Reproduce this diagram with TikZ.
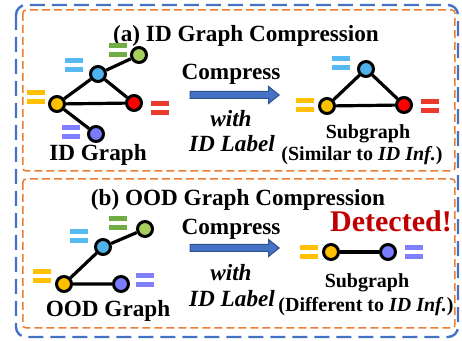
\documentclass[tikz,border=0pt]{standalone}
\usepackage{fontspec}
\setmainfont{Liberation Serif}
\usetikzlibrary{shapes,arrows,positioning,calc}

\definecolor{ngreen}{RGB}{166,206,90}
\definecolor{nblue}{RGB}{79,178,234}
\definecolor{nyellow}{RGB}{255,192,0}
\definecolor{nred}{RGB}{255,0,0}
\definecolor{npurple}{RGB}{123,123,255}
\definecolor{egreen}{RGB}{112,173,71}
\definecolor{eblue}{RGB}{86,185,240}
\definecolor{eyellow}{RGB}{255,192,0}
\definecolor{ered}{RGB}{236,58,44}
\definecolor{epurple}{RGB}{128,128,255}
\definecolor{frameblue}{RGB}{68,114,196}
\definecolor{frameorange}{RGB}{237,125,49}
\definecolor{arrowedge}{RGB}{47,82,143}
\definecolor{detred}{RGB}{192,0,0}

\tikzset{
  vtx/.style={circle, draw=black, line width=1.5pt, minimum size=7.5pt, inner sep=0pt, fill=#1},
  link/.style={line width=1.6pt},
  eqsign/.style={rectangle, minimum width=9pt, minimum height=7pt, inner sep=0pt,
    path picture={
      \fill[#1] (path picture bounding box.north west) rectangle ([yshift=-2.5pt]path picture bounding box.north east);
      \fill[#1] ([yshift=2.5pt]path picture bounding box.south west) rectangle (path picture bounding box.south east);
    }},
  bigarrow/.style={single arrow, fill=frameblue, draw=arrowedge, line width=0.5pt,
    minimum height=44.5pt, inner xsep=0pt, inner ysep=1.5pt,
    single arrow head extend=2.5pt, single arrow head indent=0pt, single arrow tip angle=78},
  ttl/.style={anchor=base, inner sep=0pt, font=\fontsize{11.6}{13}\selectfont\bfseries},
  ttlit/.style={ttl, font=\fontsize{11.6}{13}\selectfont\bfseries\itshape},
  small/.style={anchor=base, inner sep=0pt, font=\fontsize{10}{12}\selectfont\bfseries},
  outerbox/.style={draw=frameblue, line width=1.2pt, dash pattern=on 7.5pt off 3.5pt, rounded corners=5pt},
  innerbox/.style={draw=frameorange, line width=0.75pt, dash pattern=on 4pt off 2pt, rounded corners=1.5pt}
}

\begin{document}
\begin{tikzpicture}[x=0.5pt,y=-0.5pt]
  \useasboundingbox (0,0) rectangle (462,341);
  % frames
  \draw[outerbox] (16,5) rectangle (458,337);
  \draw[innerbox] (23,10) rectangle (455,171);
  \draw[innerbox] (23,179) rectangle (455,328);

  % (a) ID graph
  \node[ttl] (ttlA) at (246,42) {(a) ID Graph Compression};
  \node[eqsign=egreen] (eqAg) at (118,50) {};
  \node[eqsign=eblue] (eqAb) at (74,65) {};
  \node[eqsign=eyellow] (eqAy) at (36,97) {};
  \node[eqsign=ered] (eqAr) at (160,108) {};
  \node[eqsign=epurple] (eqAp) at (71,132) {};
  \node[vtx=ngreen] (aG) at (139,55) {};
  \node[vtx=nblue] (aB) at (98,74) {};
  \node[vtx=nyellow] (aY) at (57,104) {};
  \node[vtx=nred] (aR) at (134,103) {};
  \node[vtx=npurple] (aP) at (96,134) {};
  \draw[link] (aY) -- (aB) -- (aG);
  \draw[link] (aB) -- (aR) -- (aY) -- (aP);
  \node[ttl] (gA) at (98,161) {ID Graph};

  \node[ttl] (cmpA) at (231,80) {Compress};
  \node[bigarrow] (arrA) at (232.5,95) {};
  \node[ttlit] (withA) at (231,127) {with};
  \node[ttlit] (lblA) at (232,152) {ID Label};

  % (a) subgraph
  \node[eqsign=eblue] (eqSb) at (341,63) {};
  \node[eqsign=eyellow] (eqSy) at (305,105) {};
  \node[eqsign=ered] (eqSr) at (430,106) {};
  \node[vtx=nblue] (sB) at (366,69) {};
  \node[vtx=nyellow] (sY) at (327,106) {};
  \node[vtx=nred] (sR) at (404,105) {};
  \draw[link] (sY) -- (sB) -- (sR) -- (sY);
  \node[small] (subA) at (368,139) {Subgraph};
  \node[small] (simA) at (362,161) {(Similar to \textit{ID Inf.})};

  % (b) OOD graph
  \node[ttl] (ttlB) at (238,206) {(b) OOD Graph Compression};
  \node[eqsign=egreen] (eqBg) at (118,223) {};
  \node[eqsign=eblue] (eqBb) at (79,236) {};
  \node[eqsign=eyellow] (eqBy) at (42,276) {};
  \node[eqsign=epurple] (eqBp) at (145,280) {};
  \node[vtx=ngreen] (bG) at (145,229) {};
  \node[vtx=nblue] (bB) at (103,247) {};
  \node[vtx=nyellow] (bY) at (64,284) {};
  \node[vtx=npurple] (bP) at (121,284) {};
  \draw[link] (bG) -- (bB) -- (bY) -- (bP);
  \node[ttl] (gB) at (108,317) {OOD Graph};

  \node[ttl] (cmpB) at (231,235) {Compress};
  \node[bigarrow] (arrB) at (232.5,248) {};
  \node[ttlit] (withB) at (231,281) {with};
  \node[ttlit] (lblB) at (232,307) {ID Label};

  % (b) subgraph
  \node[anchor=base, inner sep=0pt, text=detred, font=\fontsize{15}{17}\selectfont\bfseries] (det) at (391,232) {Detected!};
  \node[eqsign=eyellow] (eqTy) at (309,252) {};
  \node[eqsign=epurple] (eqTp) at (414,252) {};
  \node[vtx=nyellow] (tY) at (331,252) {};
  \node[vtx=npurple] (tP) at (388,252) {};
  \draw[link] (tY) -- (tP);
  \node[small] (subB) at (367,288) {Subgraph};
  \node[small] (difB) at (366,312) {(Different to \textit{ID Inf.})};
\end{tikzpicture}
\end{document}
